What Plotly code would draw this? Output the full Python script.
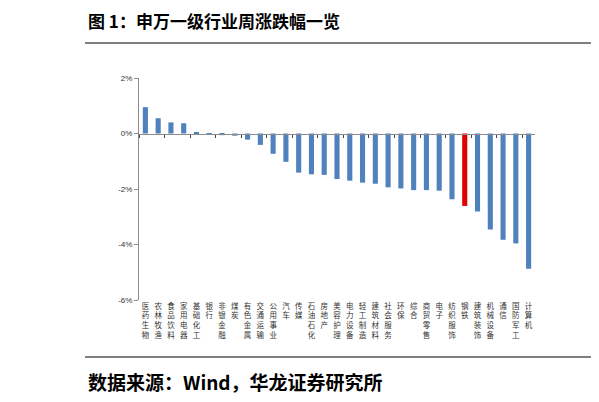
import plotly.graph_objects as go

industries = [
    "医药生物", "农林牧渔", "食品饮料", "家用电器", "基础化工", "银行", "非银金融",
    "煤炭", "有色金属", "交通运输", "公用事业", "汽车", "传媒", "石油石化", "房地产",
    "美容护理", "电力设备", "轻工制造", "建筑材料", "社会服务", "环保", "综合",
    "商贸零售", "电子", "纺织服饰", "钢铁", "建筑装饰", "机械设备", "通信",
    "国防军工", "计算机",
]
weekly_change = [
    0.95, 0.55, 0.40, 0.37, 0.02, -0.01, -0.06,
    -0.08, -0.22, -0.41, -0.73, -1.02, -1.41, -1.47, -1.49,
    -1.64, -1.70, -1.77, -1.81, -1.94, -1.98, -2.04,
    -2.04, -2.06, -2.37, -2.61, -2.81, -3.46, -3.83,
    -3.96, -4.87,
]
highlight = "钢铁"
y_ticks = [2, 0, -2, -4, -6]
y_labels = ["2%", "0%", "-2%", "-4%", "-6%"]

# page body adds ~8px, so positions below are screen px minus that
OFF = 8
W, H = 599, 402
ML, MR, MT, MB = 139 - OFF, 599 - 535 + OFF, 78 - OFF, 402 - 300 + OFF
plot_w = W - ML - MR
plot_h = H - MT - MB


def px_x(p):
    return (p - OFF - ML) / plot_w


def px_y(p):
    return (H - MB - (p - OFF)) / plot_h


bar_colors = ["#E00000" if n == highlight else "#4F81BD" for n in industries]
tick_text = ["<br>".join(n) for n in industries]

fig = go.Figure()
fig.add_trace(go.Bar(x=industries, y=weekly_change, marker_color=bar_colors,
                     marker_line_width=0, width=0.4, showlegend=False))
# empty trace so the zero-line axis gets its category ticks
fig.add_trace(go.Scatter(x=industries, y=[None] * len(industries), xaxis="x2",
                         mode="markers", showlegend=False, hoverinfo="skip"))

cjk = "Noto Sans CJK SC"
fig.update_layout(
    width=W, height=H,
    margin=dict(l=ML, r=MR, t=MT, b=MB),
    paper_bgcolor="white", plot_bgcolor="white",
    font=dict(family=cjk, color="#222"),
    xaxis=dict(
        tickmode="array", tickvals=industries, ticktext=tick_text,
        tickangle=0, tickfont=dict(size=7.5, color="#333"),
        showline=False, ticks="", showgrid=False, zeroline=False,
        range=[-0.5, len(industries) - 0.5],
    ),
    xaxis2=dict(
        overlaying="x", anchor="free", position=px_y(133.5),
        showline=True, linecolor="#8c8c8c", linewidth=1,
        ticks="outside", ticklen=3, tickcolor="#444", tickson="boundaries",
        showticklabels=False, showgrid=False, zeroline=False,
        range=[-0.5, len(industries) - 0.5],
    ),
    yaxis=dict(
        range=[-6, 2], tickmode="array", tickvals=y_ticks, ticktext=y_labels,
        tickfont=dict(size=8, family="Liberation Sans", color="#333"),
        showline=True, linecolor="#8c8c8c", linewidth=1,
        ticks="outside", ticklen=4, tickcolor="#8c8c8c",
        showgrid=False, zeroline=False,
    ),
)

# header, source and frame lines of the report page
fig.add_annotation(text="<b>图 1：申万一级行业周涨跌幅一览</b>", xref="paper", yref="paper",
                   x=px_x(86), y=px_y(21), xanchor="left", yanchor="middle",
                   showarrow=False, font=dict(size=17, color="black", family=cjk))
fig.add_annotation(text="<b>数据来源：Wind，华龙证券研究所</b>", xref="paper", yref="paper",
                   x=px_x(86), y=px_y(381), xanchor="left", yanchor="middle",
                   showarrow=False, font=dict(size=19, color="black", family=cjk))

line_style = dict(color="#7f7f7f", width=2)
fig.add_shape(type="line", xref="paper", yref="paper", x0=px_x(85), x1=px_x(610),
              y0=px_y(43), y1=px_y(43), line=line_style)
fig.add_shape(type="line", xref="paper", yref="paper", x0=px_x(85), x1=px_x(610),
              y0=px_y(357), y1=px_y(357), line=line_style)
fig.add_shape(type="line", xref="paper", yref="paper", x0=px_x(595), x1=px_x(595),
              y0=px_y(43), y1=px_y(357), line=dict(color="#7f7f7f", width=1.5))

fig.write_html("out.html")
